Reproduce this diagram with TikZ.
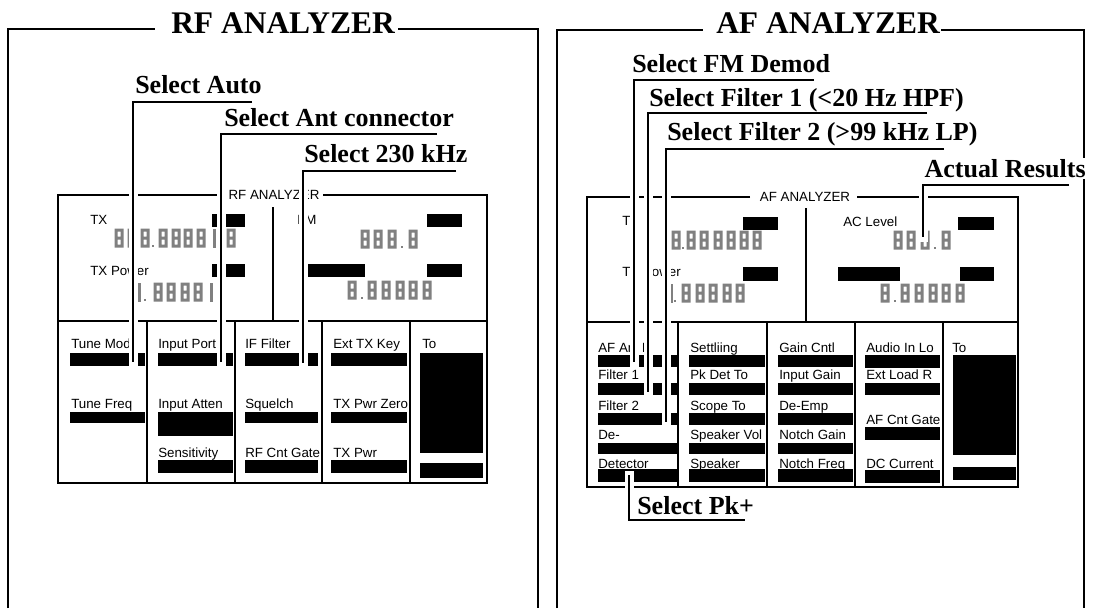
\documentclass[tikz,border=0pt]{standalone}
\usepackage{fontspec}
\setmainfont{Liberation Serif}
\newfontfamily\hvfont{Liberation Sans}
\newcommand{\digA}[2]{\fill[digit,even odd rule] ({#1-4.5},{#2-9.5}) rectangle ({#1+4.5},{#2+9.5}) ({#1-1.5},{#2-6.5}) rectangle ({#1+1.5},{#2-1.5}) ({#1-1.5},{#2+1.5}) rectangle ({#1+1.5},{#2+6.5});}
\newcommand{\digT}[2]{\fill[digit] ({#1-1.5},{#2-9.5}) rectangle ({#1+1.5},{#2+9.5});}
\newcommand{\digP}[2]{\fill[digit] ({#1-1.3},{#2+6.5}) rectangle ({#1+1.3},{#2+9.3});}
\newcommand{\bbox}[4]{\fill (#1,#2) rectangle (#3,#4);}
\begin{document}
\begin{tikzpicture}[x=0.75pt,y=-0.75pt,
  frame/.style={line width=0.8pt},
  scr/.style={line width=2.2pt},
  divl/.style={line width=1pt},
  halo/.style={white,line width=6.75pt,line cap=rect},
  lead/.style={black,line width=2.2pt},
  ttl/.style={font=\bfseries\fontsize{23.6}{26}\selectfont,anchor=base west,inner sep=0pt},
  sel/.style={font=\bfseries\fontsize{19.5}{22}\selectfont,anchor=base west,inner sep=0pt},
  lbl/.style={font=\hvfont\fontsize{10}{12}\selectfont,anchor=base west,inner sep=0pt},
  digit/.style={fill=black!50}]
\useasboundingbox (0,0) rectangle (1095,608);

% ---------------- outer frames and titles ----------------
\node[ttl] (rft) at (171,33) {RF ANALYZER};
\node[ttl] (aft) at (716,33) {AF ANALYZER};
\draw[frame] (8,608) -- (8,29) -- (155,29);
\draw[frame] (398,29) -- (538,29) -- (538,608);
\draw[frame] (557,608) -- (557,30) -- (703,30);
\draw[frame] (941,30) -- (1084,30) -- (1084,608);

% ================= LEFT SCREEN =================
\draw[scr] (219,195) -- (58,195) -- (58,483) -- (487,483) -- (487,195) -- (323,195);
\node[lbl,anchor=base] (rfin) at (274,199) {RF ANALYZER};
\draw[divl] (273,207) -- (273,321);
\draw[divl] (58,321) -- (487,321);
\foreach \cx in {147,235,322,410} {\draw[divl] (\cx,321) -- (\cx,483);}

% top display
\node[lbl] (ltx) at (90,224) {TX};
\node[lbl] (ltxp) at (90,275) {TX Power};
\node[lbl] (lfm) at (297,224) {FM};
\bbox{212}{214}{245}{227}
\bbox{212}{264}{245}{277}
\bbox{427}{214}{462}{227}
\bbox{300}{264}{365}{277}
\bbox{427}{264}{462}{277}
\foreach \dx in {119,132,145,163,176,188,201,231} {\digA{\dx}{238}}
\digT{214}{238} \digP{153}{238}
\digT{139}{292} \digP{145}{292}
\foreach \dx in {158,171,185,198} {\digA{\dx}{292}}
\digT{211}{292}
\foreach \dx in {365,378,392,413} {\digA{\dx}{239}}
\digP{402}{239}
\foreach \dx in {352,372,386,400,413,427} {\digA{\dx}{290}}
\digP{362}{290}

% softkeys
\node[lbl] (tmode) at (71,348) {Tune Mode};
\node[lbl] (tfreq) at (71,408) {Tune Freq};
\node[lbl] (iport) at (158,348) {Input Port};
\node[lbl] (iatt) at (158,408) {Input Atten};
\node[lbl] (sens) at (158,457) {Sensitivity};
\node[lbl] (iff) at (245,348) {IF Filter};
\node[lbl] (sq) at (245,408) {Squelch};
\node[lbl] (rfcg) at (245,457) {RF Cnt Gate};
\node[lbl] (etk) at (333,348) {Ext TX Key};
\node[lbl] (tpz) at (333,408) {TX Pwr Zero};
\node[lbl] (tpw) at (333,457) {TX Pwr};
\node[lbl] (lto) at (422,348) {To};
\bbox{70}{353}{145}{366}
\bbox{70}{412}{145}{423}
\bbox{158}{353}{233}{366}
\bbox{158}{412}{233}{436}
\bbox{158}{460}{233}{473}
\bbox{245}{353}{318}{366}
\bbox{245}{412}{318}{423}
\bbox{245}{460}{318}{473}
\bbox{331}{353}{407}{366}
\bbox{331}{412}{407}{423}
\bbox{331}{460}{407}{473}
\bbox{420}{353}{483}{453}
\bbox{420}{463}{483}{478}

% ================= RIGHT SCREEN =================
\draw[scr] (750,197) -- (587,197) -- (587,487) -- (1018,487) -- (1018,197) -- (857,197);
\node[lbl,anchor=base] (afin) at (805,201) {AF ANALYZER};
\draw[divl] (806,208) -- (806,322);
\draw[divl] (587,322) -- (1018,322);
\foreach \cx in {678,767,855,943} {\draw[divl] (\cx,322) -- (\cx,487);}

% top display
\node[lbl] (rtx) at (622,225) {TX};
\node[lbl] (rtxp) at (622,276) {TX Power};
\node[lbl] (acl) at (843,226) {AC Level};
\bbox{743}{217}{778}{230}
\bbox{743}{267}{778}{281}
\bbox{958}{217}{994}{230}
\bbox{838}{267}{900}{281}
\bbox{960}{267}{994}{281}
\foreach \dx in {676,691,704,718,731,744,757} {\digA{\dx}{240}}
\digP{683}{240}
\digT{671}{293} \digP{675}{293}
\foreach \dx in {686,700,713,727,740} {\digA{\dx}{293}}
\foreach \dx in {898,911,925,946} {\digA{\dx}{240}}
\digP{935}{240}
\foreach \dx in {885,905,919,933,946,960} {\digA{\dx}{293}}
\digP{895}{293}

% softkeys
\node[lbl] (afin1) at (598,352) {AF Anl In};
\node[lbl] (flt1) at (598,379) {Filter 1};
\node[lbl] (flt2) at (598,410) {Filter 2};
\node[lbl] (dem) at (598,439) {De-};
\node[lbl] (det) at (598,468) {Detector};
\node[lbl] (sett) at (690,352) {Settliing};
\node[lbl] (pkd) at (690,379) {Pk Det To};
\node[lbl] (scp) at (690,410) {Scope To};
\node[lbl] (spv) at (690,439) {Speaker Vol};
\node[lbl] (spk) at (690,468) {Speaker};
\node[lbl] (gcn) at (779,352) {Gain Cntl};
\node[lbl] (ing) at (779,379) {Input Gain};
\node[lbl] (demp) at (779,410) {De-Emp};
\node[lbl] (ntg) at (779,439) {Notch Gain};
\node[lbl] (ntf) at (779,468) {Notch Freq};
\node[lbl] (ail) at (866,352) {Audio In Lo};
\node[lbl] (elr) at (866,379) {Ext Load R};
\node[lbl] (acg) at (866,424) {AF Cnt Gate};
\node[lbl] (dcc) at (866,468) {DC Current};
\node[lbl] (rto) at (952,352) {To};
\foreach \bx/\ex in {598/677,689/765,778/853} {
  \bbox{\bx}{355}{\ex}{367}
  \bbox{\bx}{383}{\ex}{395}
  \bbox{\bx}{413}{\ex}{425}
  \bbox{\bx}{443}{\ex}{454}
  \bbox{\bx}{469}{\ex}{482}
}
\bbox{865}{355}{940}{368}
\bbox{865}{383}{940}{395}
\bbox{865}{427}{940}{440}
\bbox{865}{470}{940}{483}
\bbox{953}{355}{1016}{455}
\bbox{953}{467}{1016}{480}

% ================= LEADERS =================
\coordinate (autoH) at (252,102);  \coordinate (autoE) at (133,362);
\coordinate (antH) at (437,134);   \coordinate (antE) at (221,362);
\coordinate (khzH) at (456,171);   \coordinate (khzE) at (303,363);
\coordinate (fmH) at (814,80);     \coordinate (fmE) at (634,362);
\coordinate (f1H) at (927,113);    \coordinate (f1E) at (648,392);
\coordinate (f2H) at (944,149);    \coordinate (f2E) at (666,422);
\coordinate (actH) at (1069,185);  \coordinate (actE) at (923,237);
\coordinate (pkS) at (629,475);    \coordinate (pkH) at (745,520);
\foreach \a/\b in {autoH/autoE,antH/antE,khzH/khzE,fmH/fmE,f1H/f1E,f2H/f2E,actH/actE} {
  \draw[halo] (\a) -| (\b);
  \draw[lead] (\a) -| (\b);
}
\draw[halo] (pkS) |- (pkH);
\draw[lead] (pkS) |- (pkH);

% ================= CALLOUT TEXTS =================
\node[sel] (sauto) at (135,93) {Select Auto};
\node[sel] (sant) at (224,126) {Select Ant connector};
\node[sel] (s230) at (304,162) {Select 230 kHz};
\node[sel] (sfm) at (632,72) {Select FM Demod};
\node[sel] (sf1) at (649,106) {Select Filter 1 (<20 Hz HPF)};
\node[sel] (sf2) at (667,140) {Select Filter 2 (>99 kHz LP)};
\node[sel,fill=white,inner sep=1pt] (sact) at (923,177) {Actual Results};
\node[sel] (spkp) at (637,514) {Select Pk+};
\end{tikzpicture}
\end{document}
